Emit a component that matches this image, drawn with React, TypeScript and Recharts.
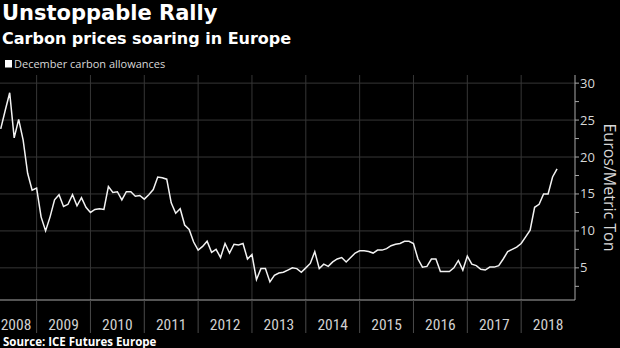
import { LineChart, Line, XAxis, YAxis, ReferenceLine } from 'recharts';

// monthly December contract settlement (EUR / metric ton)
const firstYear = 2008;
const firstMonth = 5; // series starts in May 2008
const prices2008 = [23.8, 26.3, 28.7, 22.6, 25.1, 22.3, 17.8, 15.5];
const prices2009 = [15.8, 11.9, 10.0, 11.9, 14.2, 14.9, 13.3, 13.6, 14.9, 13.4, 14.5, 13.2];
const prices2010 = [12.5, 12.9, 13.0, 12.9, 16.0, 15.2, 15.3, 14.2, 15.3, 15.3, 14.7, 14.8];
const prices2011 = [14.3, 14.9, 15.6, 17.3, 17.2, 17.0, 13.8, 12.4, 13.0, 10.8, 10.2, 8.5];
const prices2012 = [7.4, 7.9, 8.6, 7.1, 7.5, 6.4, 8.3, 7.0, 8.2, 8.1, 8.3, 6.2];
const prices2013 = [6.8, 3.4, 4.9, 4.9, 3.1, 4.0, 4.3, 4.4, 4.7, 5.0, 4.9, 4.4];
const prices2014 = [5.0, 5.6, 7.2, 4.9, 5.5, 5.2, 5.8, 6.2, 6.4, 5.8, 6.4, 7.0];
const prices2015 = [7.3, 7.3, 7.2, 7.0, 7.4, 7.4, 7.6, 8.0, 8.2, 8.3, 8.6, 8.6];
const prices2016 = [8.3, 6.2, 5.1, 5.2, 6.2, 6.2, 4.5, 4.5, 4.5, 5.0, 6.0, 4.7];
const prices2017 = [6.6, 5.5, 5.3, 4.8, 4.7, 5.1, 5.1, 5.3, 6.2, 7.2, 7.5, 7.8];
const prices2018 = [8.3, 9.2, 10.1, 13.2, 13.6, 15.0, 15.0, 17.3, 18.4];

const pricesByYear = [
  prices2008, prices2009, prices2010, prices2011, prices2012, prices2013,
  prices2014, prices2015, prices2016, prices2017, prices2018,
];

const yearLabels = [2008, 2009, 2010, 2011, 2012, 2013, 2014, 2015, 2016, 2017, 2018];
const yearBreaks = [2009, 2010, 2011, 2012, 2013, 2014, 2015, 2016, 2017, 2018];
const valueTicks = [5, 10, 15, 20, 25, 30];
const minorTicks = [2.5, 7.5, 12.5, 17.5, 22.5, 27.5];

const data = pricesByYear.flatMap((prices, i) =>
  prices.map((price, j) => {
    const month = (i === 0 ? firstMonth : 1) + j;
    return { t: firstYear + i + (month - 1) / 12, price };
  })
);

const xTicks = [...yearLabels.map((y) => y + 0.5), ...yearBreaks].sort((a, b) => a - b);
const yTicks = [...valueTicks, ...minorTicks].sort((a, b) => a - b);

const GRID = '#363636';
const AXIS = '#a8a8a8';

const YearTick = ({ x, y, payload }: any) => {
  const v = payload.value;
  if (Number.isInteger(v)) {
    return <line x1={x} x2={x} y1={y} y2={y + 33} stroke="#4a4a4a" />;
  }
  return (
    <text
      x={Math.max(x, 16)}
      y={y + 29.5}
      textAnchor="middle"
      fill="#d0d0d0"
      fontSize={15.5}
      fontFamily="'Liberation Sans Narrow', 'Roboto Condensed', Roboto, sans-serif"
    >
      {Math.floor(v)}
    </text>
  );
};

const ValueTick = ({ x, y, payload }: any) => {
  if (payload.value % 5 !== 0) return <g />;
  return (
    <text x={x} y={y} dy={4.5} textAnchor="start" fill="#d8d8d8" fontSize={13} fontFamily="'Open Sans', sans-serif">
      {payload.value}
    </text>
  );
};

const UnitLabel = ({ viewBox }: any) => {
  const cx = viewBox.x + 34.5;
  const cy = viewBox.y + viewBox.height / 2;
  return (
    <text
      x={cx}
      y={cy}
      transform={`rotate(90 ${cx} ${cy})`}
      textAnchor="middle"
      dominantBaseline="central"
      fill="#d8d8d8"
      fontSize={16}
      fontFamily="'Open Sans', sans-serif"
    >
      Euros/Metric Ton
    </text>
  );
};

export default function App() {
  return (
    <div
      style={{
        position: 'absolute',
        left: 0,
        top: 0,
        width: 620,
        height: 348,
        background: '#000',
        overflow: 'hidden',
      }}
    >
      <LineChart width={620} height={348} data={data} margin={{ top: 75, right: 0, bottom: 0, left: 0 }}>
        <XAxis
          dataKey="t"
          type="number"
          domain={[2008.32, 2019]}
          allowDataOverflow
          ticks={xTicks}
          interval={0}
          tickSize={0}
          tickMargin={0}
          tickLine={false}
          tick={<YearTick />}
          axisLine={{ stroke: AXIS }}
          height={48}
        />
        <YAxis
          orientation="right"
          type="number"
          domain={[0.65, 31.1]}
          allowDataOverflow
          ticks={yTicks}
          interval={0}
          tickSize={4}
          tickMargin={1}
          tickLine={{ stroke: AXIS }}
          tick={<ValueTick />}
          axisLine={{ stroke: AXIS }}
          width={45}
          label={<UnitLabel />}
        />
        {valueTicks.map((v) => (
          <ReferenceLine key={`h-${v}`} y={v} stroke={GRID} />
        ))}
        {yearBreaks.map((yr) => (
          <ReferenceLine key={`v-${yr}`} x={yr} stroke={GRID} />
        ))}
        <Line
          type="linear"
          dataKey="price"
          stroke="#f2f2f2"
          strokeWidth={1.5}
          dot={false}
          isAnimationActive={false}
        />
      </LineChart>

      <svg
        width={620}
        height={348}
        style={{ position: 'absolute', left: 0, top: 0, pointerEvents: 'none' }}
      >
        <text x={2} y={20} fill="#fff" fontSize={21} fontWeight="bold" fontFamily="'DejaVu Sans', sans-serif">
          Unstoppable Rally
        </text>
        <text x={2} y={43.5} fill="#fff" fontSize={16} fontWeight="bold" fontFamily="'DejaVu Sans', sans-serif">
          Carbon prices soaring in Europe
        </text>
        <rect x={5} y={60} width={7} height={7.5} fill="#fff" />
        <text x={14} y={68} fill="#d8d8d8" fontSize={11} fontFamily="'Open Sans', sans-serif">
          December carbon allowances
        </text>
        <text x={3} y={346} fill="#fff" fontSize={11.5} fontWeight="bold" fontFamily="'Open Sans', sans-serif">
          Source: ICE Futures Europe
        </text>
      </svg>
    </div>
  );
}
